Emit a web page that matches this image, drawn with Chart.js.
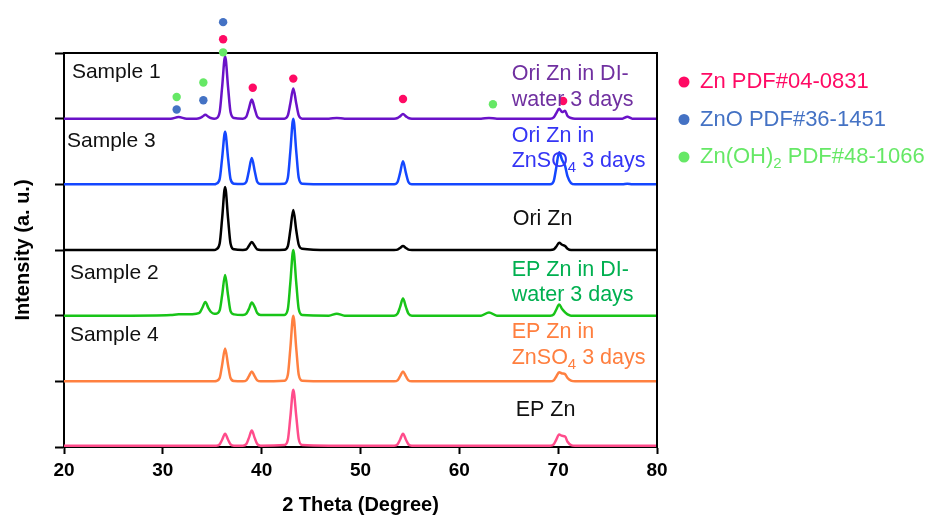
<!DOCTYPE html>
<html>
<head>
<meta charset="utf-8">
<script src="https://cdn.jsdelivr.net/npm/chart.js@4.4.0/dist/chart.umd.min.js"></script>
<style>
  html, body { margin: 0; padding: 0; background: #fff; }
</style>
</head>
<body>
<canvas id="xrdChart" width="928" height="518"></canvas>
<script>
// 2 theta grid shared by all scans (degrees)
const twoTheta = [20, 26, 30.8, 31.6, 32.4,
  33.4, 33.75, 34.0, 34.3, 34.6, 34.85, 35.2,
  35.4, 35.75, 36.0, 36.3, 36.6, 36.85, 37.2,
  38.1, 38.45, 38.7, 39.0, 39.3, 39.55, 39.9,
  42.3, 42.65, 42.9, 43.2, 43.5, 43.75, 44.1,
  46.8, 47.6, 48.4,
  53.4, 53.75, 54.0, 54.3, 54.6, 54.85, 55.2,
  62.2, 63.0, 63.8,
  69.2, 69.55, 69.8, 70.1, 70.4, 70.7, 70.95, 71.3, 71.7,
  76.5, 77.0, 77.5,
  80];

// normalised intensities (same order as twoTheta)
const oriZnDI = [0, 0, 0, 0.025, 0,
  0, 0.01, 0.03, 0.06, 0.03, 0.01, 0,
  0.005, 0.1, 0.48, 0.95, 0.48, 0.1, 0.01,
  0, 0.03, 0.15, 0.29, 0.15, 0.03, 0,
  0, 0.05, 0.23, 0.46, 0.23, 0.05, 0,
  0, 0.01, 0,
  0, 0.01, 0.035, 0.07, 0.035, 0.01, 0,
  0, 0.01, 0,
  0, 0.02, 0.08, 0.15, 0.1, 0.12, 0.04, 0.01, 0,
  0, 0.03, 0,
  0];
const oriZnSO4 = [0, 0, 0, 0, 0,
  0, 0, 0, 0, 0, 0, 0,
  0.01, 0.08, 0.4, 0.8, 0.4, 0.08, 0.01,
  0.005, 0.04, 0.2, 0.4, 0.2, 0.04, 0.005,
  0.01, 0.1, 0.5, 1.0, 0.5, 0.1, 0.01,
  0, 0, 0,
  0, 0.035, 0.17, 0.35, 0.17, 0.035, 0,
  0, 0, 0,
  0, 0.05, 0.25, 0.49, 0.37, 0.28, 0.12, 0.02, 0,
  0, 0.01, 0,
  0];
const oriZn = [0, 0, 0, 0, 0,
  0, 0, 0, 0, 0, 0, 0,
  0.01, 0.1, 0.48, 0.96, 0.48, 0.1, 0.01,
  0, 0.01, 0.06, 0.12, 0.06, 0.01, 0,
  0.005, 0.06, 0.3, 0.61, 0.3, 0.08, 0.02,
  0, 0, 0,
  0, 0.006, 0.03, 0.06, 0.03, 0.006, 0,
  0, 0, 0,
  0, 0.01, 0.05, 0.11, 0.08, 0.06, 0.02, 0, 0,
  0, 0, 0,
  0];
const epZnDI = [0, 0, 0.01, 0.02, 0.02,
  0.03, 0.05, 0.12, 0.21, 0.12, 0.06, 0.03,
  0.03, 0.08, 0.31, 0.62, 0.31, 0.07, 0.02,
  0.01, 0.03, 0.1, 0.2, 0.13, 0.04, 0.01,
  0.01, 0.1, 0.5, 1.0, 0.5, 0.1, 0.01,
  0, 0.03, 0,
  0, 0.03, 0.13, 0.26, 0.13, 0.03, 0,
  0, 0.05, 0,
  0, 0.02, 0.09, 0.17, 0.1, 0.05, 0.02, 0, 0,
  0, 0, 0,
  0];
const epZnSO4 = [0, 0, 0, 0, 0,
  0, 0, 0, 0, 0, 0, 0,
  0.005, 0.05, 0.25, 0.5, 0.25, 0.05, 0.005,
  0, 0.015, 0.075, 0.15, 0.075, 0.015, 0,
  0.01, 0.1, 0.5, 1.0, 0.5, 0.1, 0.01,
  0, 0, 0,
  0, 0.015, 0.075, 0.15, 0.075, 0.015, 0,
  0, 0, 0,
  0, 0.015, 0.07, 0.14, 0.12, 0.11, 0.05, 0.01, 0,
  0, 0, 0,
  0];
const epZn = [0.02, 0.02, 0.02, 0.02, 0.02,
  0.02, 0.02, 0.02, 0.02, 0.02, 0.02, 0.02,
  0.02, 0.04, 0.11, 0.2, 0.11, 0.04, 0.02,
  0.02, 0.045, 0.135, 0.25, 0.135, 0.045, 0.02,
  0.03, 0.11, 0.45, 0.87, 0.47, 0.12, 0.03,
  0.02, 0.02, 0.02,
  0.02, 0.04, 0.11, 0.2, 0.11, 0.04, 0.02,
  0.02, 0.02, 0.02,
  0.02, 0.04, 0.11, 0.19, 0.17, 0.16, 0.08, 0.03, 0.02,
  0.02, 0.02, 0.02,
  0.02];

// reference peak markers (2 theta, level in stacked units)
const znPeaks = [36.1, 39.1, 43.2, 54.3, 70.5];
const znLevels = [6.21, 5.47, 5.61, 5.3, 5.27];
const znoPeaks = [31.4, 34.1, 36.1];
const znoLevels = [5.14, 5.28, 6.47];
const znOHPeaks = [31.4, 34.1, 36.1, 63.4];
const znOHLevels = [5.33, 5.55, 6.01, 5.22];

const xTicks = [20, 30, 40, 50, 60, 70, 80];

const FONT = '"Liberation Sans", Arial, sans-serif';
const pinkRef = '#FF0A64', blueRef = '#4472C4', greenRef = '#66E866';

const scans = [
  { y: oriZnDI, offset: 5, color: '#6A12C8' },
  { y: oriZnSO4, offset: 4, color: '#1447FF' },
  { y: oriZn, offset: 3, color: '#000000' },
  { y: epZnDI, offset: 2, color: '#18C418' },
  { y: epZnSO4, offset: 1, color: '#FF8040' },
  { y: epZn, offset: 0, color: '#FF4C8B' }
];

const datasets = scans.map(s => ({
  type: 'line',
  data: twoTheta.map((t, i) => ({ x: t, y: s.y[i] + s.offset })),
  borderColor: s.color,
  borderWidth: 2.5,
  pointRadius: 0,
  cubicInterpolationMode: 'monotone',
  clip: 4
}));

const markerSets = [
  { xs: znPeaks, ys: znLevels, c: pinkRef },
  { xs: znoPeaks, ys: znoLevels, c: blueRef },
  { xs: znOHPeaks, ys: znOHLevels, c: greenRef }
];

// text notes placed in data units
const notes = [
  { t: 'Sample 1', x: 20.8, y: 5.70, c: '#111', s: 21 },
  { t: 'Sample 3', x: 20.3, y: 4.66, c: '#111', s: 21 },
  { t: 'Sample 2', x: 20.6, y: 2.65, c: '#111', s: 21 },
  { t: 'Sample 4', x: 20.6, y: 1.71, c: '#111', s: 21 },
  { t: 'Ori Zn in DI-', x: 65.3, y: 5.68, c: '#7030A0', s: 21.5 },
  { t: 'water 3 days', x: 65.3, y: 5.29, c: '#7030A0', s: 21.5 },
  { t: 'Ori Zn in', x: 65.3, y: 4.74, c: '#3535F5', s: 21.5 },
  { t: 'ZnSO_4 3 days', x: 65.3, y: 4.36, c: '#3535F5', s: 21.5 },
  { t: 'Ori Zn', x: 65.4, y: 3.47, c: '#111', s: 21.5 },
  { t: 'EP Zn in DI-', x: 65.3, y: 2.70, c: '#00B050', s: 21.5 },
  { t: 'water 3 days', x: 65.3, y: 2.31, c: '#00B050', s: 21.5 },
  { t: 'EP Zn in', x: 65.3, y: 1.75, c: '#FF7F3F', s: 21.5 },
  { t: 'ZnSO_4 3 days', x: 65.3, y: 1.36, c: '#FF7F3F', s: 21.5 },
  { t: 'EP Zn', x: 65.7, y: 0.56, c: '#111', s: 21.5 }
];

const legendRows = [
  { t: 'Zn PDF#04-0831', c: pinkRef },
  { t: 'ZnO PDF#36-1451', c: blueRef },
  { t: 'Zn(OH)_2 PDF#48-1066', c: greenRef }
];

function drawRich(ctx, text, x, y, size) {
  const parts = text.split(/_(\d)/);
  let cx = x;
  parts.forEach((p, i) => {
    const sub = i % 2 === 1;
    ctx.font = (sub ? Math.round(size * 0.68) : size) + 'px ' + FONT;
    ctx.fillText(p, cx, sub ? y + size * 0.32 : y);
    cx += ctx.measureText(p).width;
  });
}

const annotate = {
  id: 'annotate',
  afterDatasetsDraw(chart) {
    const { ctx, chartArea, scales } = chart;
    ctx.save();
    // top and right frame
    ctx.strokeStyle = '#000';
    ctx.lineWidth = 2;
    ctx.beginPath();
    ctx.moveTo(chartArea.left, chartArea.top);
    ctx.lineTo(chartArea.right, chartArea.top);
    ctx.lineTo(chartArea.right, chartArea.bottom);
    ctx.stroke();

    // phase reference dots
    markerSets.forEach(m => {
      ctx.fillStyle = m.c;
      m.xs.forEach((x, i) => {
        ctx.beginPath();
        ctx.arc(scales.x.getPixelForValue(x), scales.y.getPixelForValue(m.ys[i]), 4.2, 0, Math.PI * 2);
        ctx.fill();
      });
    });

    ctx.textBaseline = 'middle';
    ctx.textAlign = 'left';
    notes.forEach(n => {
      ctx.fillStyle = n.c;
      drawRich(ctx, n.t, scales.x.getPixelForValue(n.x), scales.y.getPixelForValue(n.y), n.s);
    });

    legendRows.forEach((r, i) => {
      const y = chartArea.top + 29 + i * 37.5;
      ctx.fillStyle = r.c;
      ctx.beginPath();
      ctx.arc(chartArea.right + 27, y, 5.5, 0, Math.PI * 2);
      ctx.fill();
      drawRich(ctx, r.t, chartArea.right + 43, y, 22);
    });
    ctx.restore();
  }
};

const ctx = document.getElementById('xrdChart').getContext('2d');
new Chart(ctx, {
  data: { datasets: datasets },
  options: {
    responsive: false,
    animation: false,
    events: [],
    layout: { padding: { top: 53, right: 271, left: 0, bottom: 0 } },
    plugins: { legend: { display: false }, tooltip: { enabled: false } },
    scales: {
      x: {
        type: 'linear',
        min: 20,
        max: 80,
        afterBuildTicks: s => { s.ticks = xTicks.map(v => ({ value: v })); },
        afterFit: s => { s.height = 71; },
        ticks: { color: '#000', padding: 5, font: { family: FONT, size: 19, weight: 'bold' } },
        grid: { drawOnChartArea: false, tickLength: 7, tickWidth: 2, tickColor: '#000' },
        border: { color: '#000', width: 2 },
        title: {
          display: true,
          text: '2 Theta (Degree)',
          color: '#000',
          font: { family: FONT, size: 20, weight: 'bold' },
          padding: { top: 0, bottom: 1 }
        }
      },
      y: {
        type: 'linear',
        min: 0,
        max: 6,
        afterFit: s => { s.width = 64; },
        ticks: { display: false, stepSize: 1 },
        grid: { drawOnChartArea: false, tickLength: 9, tickWidth: 2, tickColor: '#000' },
        border: { color: '#000', width: 2 },
        title: {
          display: true,
          text: 'Intensity (a. u.)',
          color: '#000',
          font: { family: FONT, size: 20, weight: 'bold' },
          padding: { top: 11, bottom: 0 }
        }
      }
    }
  },
  plugins: [annotate]
});
</script>
</body>
</html>
